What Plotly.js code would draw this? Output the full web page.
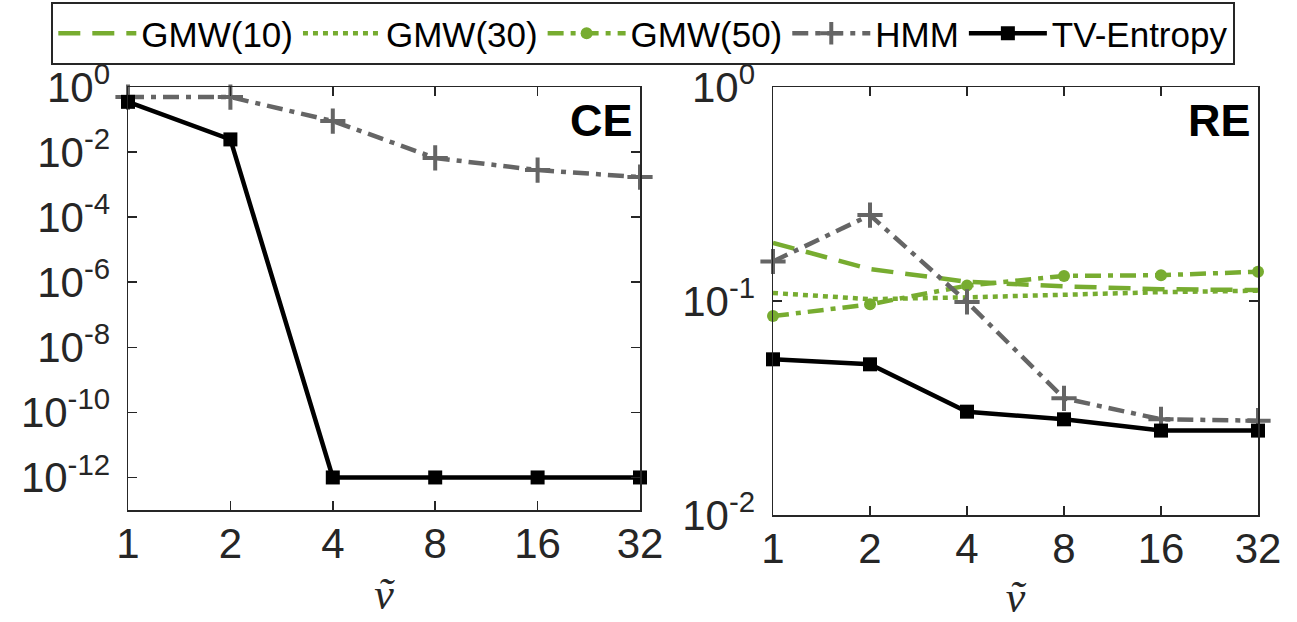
<!DOCTYPE html>
<html><head><meta charset="utf-8">
<script src="https://cdn.plot.ly/plotly-3.0.1.min.js"></script>
<style>html,body{margin:0;padding:0;background:#fff;}#chart{width:1297px;height:622px;}</style>
</head><body><div id="chart"></div>
<script>
const xVals = [1, 2, 4, 8, 16, 32];
const xTickText = ['1', '2', '4', '8', '16', '32'];
// CE panel
const ceHMM = [0.49, 0.49, 0.09, 0.0066, 0.0028, 0.0017];
const ceTV = [0.35, 0.0245, 1e-12, 1e-12, 1e-12, 1e-12];
// RE panel
const reGMW10 = [0.187, 0.141, 0.123, 0.117, 0.1135, 0.1125];
const reGMW30 = [0.109, 0.102, 0.104, 0.1075, 0.110, 0.1117];
const reGMW50 = [0.085, 0.0965, 0.118, 0.131, 0.132, 0.137];
const reHMM = [0.153, 0.252, 0.099, 0.0351, 0.028, 0.0276];
const reTV = [0.0534, 0.0506, 0.0304, 0.028, 0.0248, 0.0248];
const ceTickVals = [1, 1e-2, 1e-4, 1e-6, 1e-8, 1e-10, 1e-12];
const ceTickText = ['10<sup>0</sup>', '10<sup>-2</sup>', '10<sup>-4</sup>', '10<sup>-6</sup>', '10<sup>-8</sup>', '10<sup>-10</sup>', '10<sup>-12</sup>'];
const reTickVals = [1, 1e-1, 1e-2];
const reTickText = ['10<sup>0</sup>', '10<sup>-1</sup>', '10<sup>-2</sup>'];

const green = '#77AC30', gray = '#656565', black = '#000000';
const LW = 4.5;
const dashDot = '16px,7px,5px,7px';

const traces = [
  {x: xVals, y: reGMW10, xaxis: 'x2', yaxis: 'y2', name: 'GMW(10)', mode: 'lines',
   line: {color: green, width: LW, dash: '22px,12px'}, cliponaxis: false},
  {x: xVals, y: reGMW30, xaxis: 'x2', yaxis: 'y2', name: 'GMW(30)', mode: 'lines',
   line: {color: green, width: LW, dash: '5px,5px'}, cliponaxis: false},
  {x: xVals, y: reGMW50, xaxis: 'x2', yaxis: 'y2', name: 'GMW(50)', mode: 'lines+markers',
   line: {color: green, width: LW, dash: dashDot}, marker: {symbol: 'circle', size: 12, color: green}, cliponaxis: false},
  {x: xVals, y: reHMM, xaxis: 'x2', yaxis: 'y2', name: 'HMM', mode: 'lines+markers',
   line: {color: gray, width: LW, dash: dashDot}, marker: {symbol: 'cross-thin-open', size: 18, color: gray, line: {color: gray, width: 4}}, cliponaxis: false},
  {x: xVals, y: reTV, xaxis: 'x2', yaxis: 'y2', name: 'TV-Entropy', mode: 'lines+markers',
   line: {color: black, width: LW}, marker: {symbol: 'square', size: 14, color: black}, cliponaxis: false},
  {x: xVals, y: ceHMM, xaxis: 'x', yaxis: 'y', name: 'HMM', mode: 'lines+markers', showlegend: false,
   line: {color: gray, width: LW, dash: dashDot}, marker: {symbol: 'cross-thin-open', size: 18, color: gray, line: {color: gray, width: 4}}, cliponaxis: false},
  {x: xVals, y: ceTV, xaxis: 'x', yaxis: 'y', name: 'TV-Entropy', mode: 'lines+markers', showlegend: false,
   line: {color: black, width: LW}, marker: {symbol: 'square', size: 14, color: black}, cliponaxis: false}
];

const axCol = '#262626';
const fam = 'Liberation Sans, Arial, sans-serif';
function xAxis(domain, anchor) {
  return {domain: domain, anchor: anchor, type: 'log', range: [0, Math.log10(32)],
    tickvals: xVals, ticktext: xTickText, ticks: 'inside', ticklen: 9, tickwidth: 1.5, tickcolor: axCol,
    showline: true, linecolor: axCol, linewidth: 1.5, mirror: 'ticks', showgrid: false, zeroline: false,
    tickfont: {family: fam, size: 42, color: axCol}, ticklabelstandoff: -4,
    title: {text: '<i>ṽ</i>', font: {family: 'Liberation Serif, DejaVu Serif, serif', size: 44, color: axCol}, standoff: 12}};
}
function yAxis(domain, anchor, range, tv, tt) {
  return {domain: domain, anchor: anchor, type: 'log', range: range, tickvals: tv, ticktext: tt,
    ticks: 'inside', ticklen: 9, tickwidth: 1.5, tickcolor: axCol,
    showline: true, linecolor: axCol, linewidth: 1.5, mirror: 'ticks', showgrid: false, zeroline: false,
    tickfont: {family: fam, size: 42, color: axCol}, ticklabelstandoff: 8};
}

const layout = {
  width: 1297, height: 622,
  margin: {l: 0, r: 0, t: 0, b: 0},
  paper_bgcolor: '#fff', plot_bgcolor: '#fff',
  font: {family: fam, color: '#000'},
  xaxis: xAxis([128/1297, 640/1297], 'y'),
  yaxis: yAxis([1 - 510/622, 1 - 87/622], 'x', [-13, 0], ceTickVals, ceTickText),
  xaxis2: xAxis([773/1297, 1258/1297], 'y2'),
  yaxis2: yAxis([1 - 515/622, 1 - 87/622], 'x2', [-2, 0], reTickVals, reTickText),
  showlegend: true,
  legend: {orientation: 'h', x: 0.496, xanchor: 'center', y: 1 - 2/622, yanchor: 'top',
    bordercolor: axCol, borderwidth: 2, bgcolor: '#fff',
    font: {family: fam, size: 35, color: '#000'},
    itemwidth: 78, tracegroupgap: 0},
  annotations: [
    {xref: 'x domain', yref: 'y domain', x: 0.99, y: 0.985, xanchor: 'right', yanchor: 'top',
     text: '<b>CE</b>', showarrow: false, font: {size: 45, color: '#000', family: fam}},
    {xref: 'x2 domain', yref: 'y2 domain', x: 0.99, y: 0.985, xanchor: 'right', yanchor: 'top',
     text: '<b>RE</b>', showarrow: false, font: {size: 45, color: '#000', family: fam}}
  ]
};

Plotly.newPlot('chart', traces, layout, {displayModeBar: false, staticPlot: true});
</script>
</body></html>
